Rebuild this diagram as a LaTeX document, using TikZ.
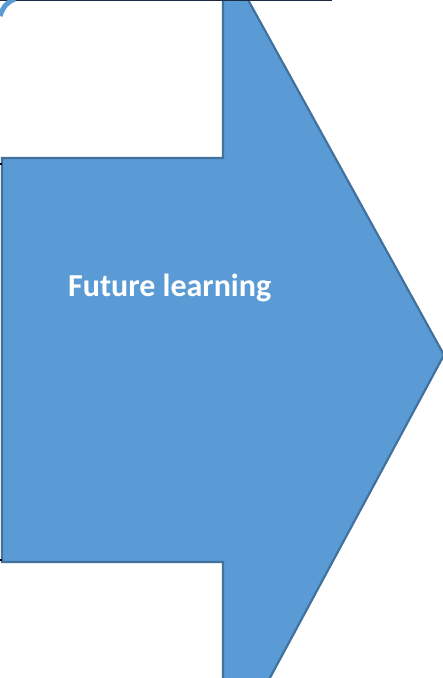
\documentclass[tikz,border=0pt]{standalone}
\usepackage{fontspec}
\setmainfont{Carlito}
\definecolor{arrowfill}{HTML}{5B9BD5}
\definecolor{arrowline}{HTML}{41719C}
\definecolor{topline}{HTML}{1F2A44}
\begin{document}
\begin{tikzpicture}[x=1pt,y=1pt,
  arrowshape/.style={fill=arrowfill,draw=arrowline,line width=2.2pt,line join=miter},
  label/.style={text=white,font=\bfseries\fontsize{32}{38}\selectfont,inner sep=0pt,anchor=base west}]
\useasboundingbox (0,0) rectangle (443,678);
\clip (0,0) rectangle (443,678);
% image coords: y_tikz = 678 - y_img
\coordinate (p1) at (2,520);
\coordinate (p2) at (223,520);
\coordinate (p3) at (223,700);
\coordinate (p4) at (236,700);
\coordinate (tip) at (444,323);
\coordinate (p6) at (258,-22);
\coordinate (p7) at (223,-22);
\coordinate (p8) at (223,116);
\coordinate (p9) at (2,116);
\draw[arrowshape] (p1) -- (p2) -- (p3) -- (p4) -- (tip) -- (p6) -- (p7) -- (p8) -- (p9) -- cycle;
\node[label] (txt) at (68,381) {Future learning};
% top edge line
\coordinate (t1) at (0,677.5);
\coordinate (t2) at (332,677.5);
\draw[topline,line width=1.5pt] (t1) -- (t2);
% top-left arc fragment
\coordinate (a1) at (0,662);
\coordinate (a2) at (15,679);
\draw[arrowfill,line width=5pt] (a1) .. controls (3,671) and (7,676) .. (a2);
% small ticks on left
\coordinate (k1) at (0,514);
\coordinate (k2) at (2,514);
\draw[black,line width=1.5pt] (k1) -- (k2);
\coordinate (k3) at (0,118);
\coordinate (k4) at (2,118);
\draw[black,line width=1.5pt] (k3) -- (k4);
\end{tikzpicture}
\end{document}
